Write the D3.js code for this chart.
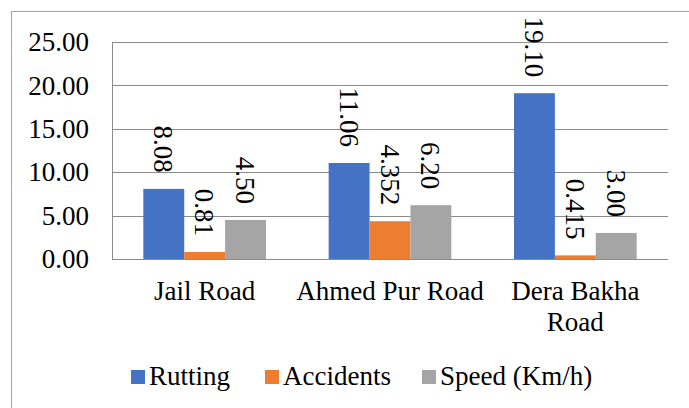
<!DOCTYPE html>
<html>
<head>
<meta charset="utf-8">
<script src="https://cdn.jsdelivr.net/npm/d3@7"></script>
<style>
  html, body { margin: 0; padding: 0; background: #fff; }
  svg.c { display: block; }
  svg.c text, svg.c tspan {
    font-family: "Liberation Serif", "Times New Roman", Tinos, FreeSerif, "Noto Serif CJK SC", monospace !important;
  }
</style>
</head>
<body>
<svg class="c" width="689" height="408" font-family="Liberation Serif"></svg>
<script>
// ---- data ----
const categories = [["Jail Road"], ["Ahmed Pur Road"], ["Dera Bakha", "Road"]];
const seriesNames = ["Rutting", "Accidents", "Speed (Km/h)"];
const rutting = [8.08, 11.06, 19.10];
const accidents = [0.81, 4.352, 0.415];
const speed = [4.50, 6.20, 3.00];
const ruttingLabels = ["8.08", "11.06", "19.10"];
const accidentsLabels = ["0.81", "4.352", "0.415"];
const speedLabels = ["4.50", "6.20", "3.00"];
const yTicks = [0, 5, 10, 15, 20, 25];
const colors = ["#4472C4", "#ED7D31", "#A5A5A5"];

const seriesValues = [rutting, accidents, speed];
const seriesLabels = [ruttingLabels, accidentsLabels, speedLabels];

const svg = d3.select("svg.c");
const fontSize = 27;

function addText(parent, x, y, str, anchor, rot, dy) {
  const g = parent.append("g")
    .attr("transform", `translate(${x},${y}) rotate(${rot || 0})`);
  g.append("text")
    .attr("font-family", "Liberation Serif")
    .style("font-family", `"Liberation Serif", "Times New Roman", Tinos, FreeSerif, monospace`)
    .attr("font-size", fontSize)
    .attr("fill", "#000")
    .attr("text-anchor", anchor || "start")
    .attr("dy", dy || 0)
    .text(str);
  return g;
}

// outer chart border
svg.append("rect")
  .attr("x", 11.5).attr("y", 11.5)
  .attr("width", 720).attr("height", 420)
  .attr("fill", "none").attr("stroke", "#a6a6a6").attr("stroke-width", 1);

const plot = { left: 112, right: 668, top: 42, bottom: 259 };

const y = d3.scaleLinear().domain([0, 25]).range([plot.bottom, plot.top]);
const x0 = d3.scaleBand().domain(d3.range(categories.length)).range([plot.left, plot.right]).padding(0);
const groupW = x0.bandwidth() * 0.662;
const x1 = d3.scaleBand().domain(d3.range(seriesNames.length))
  .range([0, groupW]).padding(0);

// gridlines
svg.append("g").selectAll("line").data(yTicks.filter(t => t > 0)).join("line")
  .attr("x1", plot.left).attr("x2", plot.right)
  .attr("y1", d => Math.round(y(d)) + 0.5).attr("y2", d => Math.round(y(d)) + 0.5)
  .attr("stroke", "#8c8c8c").attr("stroke-width", 1);

// y tick labels
const yLab = svg.append("g");
yTicks.forEach(t => addText(yLab, 89, y(t), d3.format(".2f")(t), "end", 0, "0.34em"));

// bars
const groups = svg.append("g").selectAll("g").data(categories).join("g")
  .attr("transform", (d, i) => `translate(${x0(i) + (x0.bandwidth() - groupW) / 2},0)`);

groups.each(function(cat, ci) {
  const g = d3.select(this);
  seriesValues.forEach((vals, si) => {
    g.append("rect")
      .attr("x", x1(si)).attr("width", x1.bandwidth())
      .attr("y", y(vals[ci])).attr("height", y(0) - y(vals[ci]))
      .attr("fill", colors[si]);
  });
  seriesValues.forEach((vals, si) => {
    const cx = x1(si) + x1.bandwidth() / 2;
    const ty = y(vals[ci]) - 16;
    addText(g, cx, ty, seriesLabels[si][ci], "end", 90, "0.35em");
  });
});

// left axis line and baseline
svg.append("line")
  .attr("x1", plot.left + 0.5).attr("x2", plot.left + 0.5)
  .attr("y1", plot.top).attr("y2", plot.bottom + 0.5)
  .attr("stroke", "#8c8c8c");
svg.append("line")
  .attr("x1", plot.left).attr("x2", plot.right)
  .attr("y1", Math.round(y(0)) + 0.5).attr("y2", Math.round(y(0)) + 0.5)
  .attr("stroke", "#8c8c8c");

// category labels
const catG = svg.append("g");
categories.forEach((lines, i) => {
  lines.forEach((ln, li) => {
    addText(catG, x0(i) + x0.bandwidth() / 2, 300 + li * 31, ln, "middle", 0, 0);
  });
});

// legend (entry offsets)
const legendX = [131, 265, 422];
const legend = svg.append("g");
seriesNames.forEach((name, i) => {
  legend.append("rect")
    .attr("x", legendX[i]).attr("y", 370)
    .attr("width", 14).attr("height", 14)
    .attr("fill", colors[i]);
  addText(legend, legendX[i] + 18, 384.5, name, "start", 0, 0);
});
</script>
</body>
</html>
